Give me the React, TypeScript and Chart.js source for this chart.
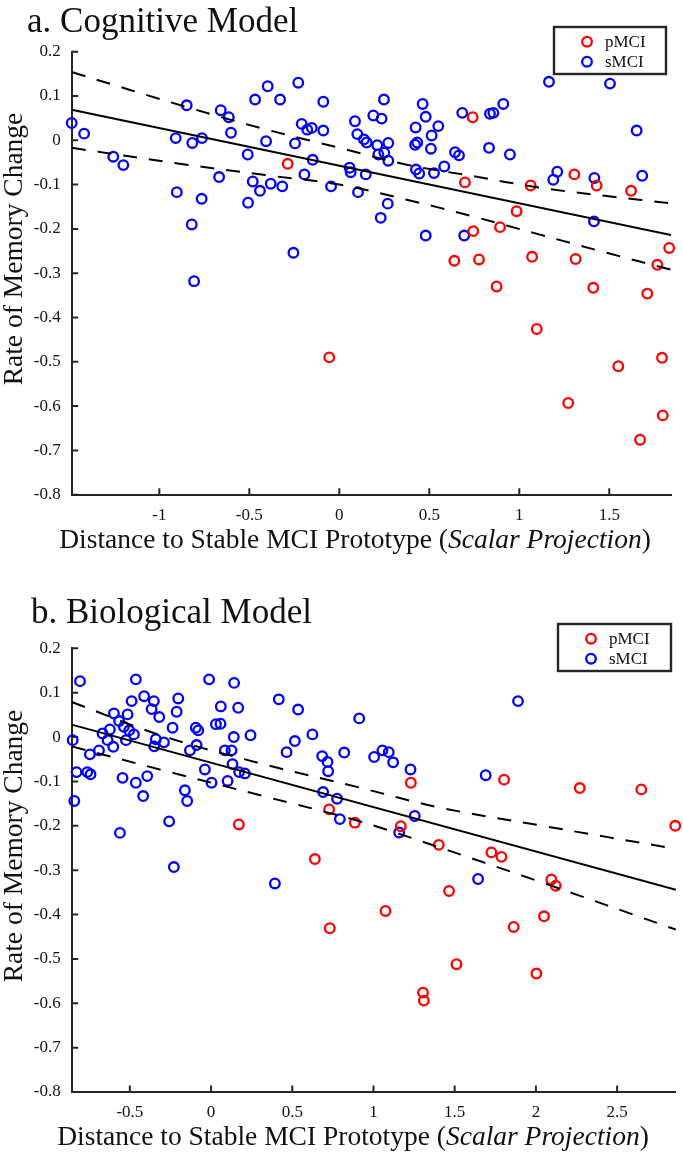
import React, { useEffect, useRef } from "react";
import { Chart, registerables } from "chart.js";

Chart.register(...registerables);

const FONT = '"Liberation Serif", "Times New Roman", Times, serif';
const AXIS = "#262626";
const TEXT = "#111111";
const RED = "#ff0000";
const BLUE = "#0000ff";

// ---------- Panel a: Cognitive Model ----------
const cogPmciX = [-0.287, -0.056, 0.741, 0.698, 1.063, 1.306, 1.43, 1.621, 0.985, 0.744, 0.893, 1.833, 1.767, 0.639, 0.776, 1.071, 1.313, 0.874, 1.411, 1.711, 1.097, 1.55, 1.793, 1.272, 1.797, 1.671];
const cogPmciY = [-0.053, -0.49, 0.052, -0.095, -0.102, -0.077, -0.102, -0.114, -0.16, -0.205, -0.196, -0.243, -0.281, -0.272, -0.269, -0.263, -0.268, -0.33, -0.333, -0.346, -0.426, -0.51, -0.491, -0.593, -0.621, -0.676];

const cogSmciX = [-1.487, -1.418, -1.256, -1.2, -0.909, -0.848, -0.817, -0.763, -0.903, -0.82, -0.765, -0.807, -0.668, -0.659, -0.614, -0.602, -0.509, -0.507, -0.481, -0.468, -0.441, -0.407, -0.398, -0.381, -0.329, -0.317, -0.255, -0.246, -0.228, -0.209, -0.194, -0.178, -0.153, -0.148, -0.089, -0.089, -0.046, 0.057, 0.063, 0.087, 0.1, 0.104, 0.137, 0.152, 0.147, 0.189, 0.211, 0.217, 0.235, 0.248, 0.25, 0.272, 0.272, 0.269, 0.23, 0.424, 0.421, 0.433, 0.426, 0.444, 0.463, 0.48, 0.48, 0.513, 0.509, 0.526, 0.55, 0.583, 0.643, 0.665, 0.683, 0.694, 0.832, 0.837, 0.856, 0.911, 0.948, 1.165, 1.189, 1.211, 1.417, 1.415, 1.504, 1.652, 1.683];
const cogSmciY = [0.039, 0.015, -0.037, -0.056, 0.005, 0.079, -0.006, 0.005, -0.117, -0.19, -0.132, -0.318, -0.083, 0.068, 0.052, 0.017, -0.032, -0.141, -0.093, 0.092, -0.114, -0.002, 0.122, -0.098, 0.092, -0.104, -0.254, -0.007, 0.13, 0.037, -0.077, 0.024, 0.028, -0.044, 0.087, 0.022, -0.104, -0.062, -0.072, 0.043, 0.014, -0.117, 0.002, -0.005, -0.077, 0.056, -0.011, -0.032, 0.049, 0.092, -0.028, -0.006, -0.046, -0.143, -0.175, 0.029, -0.01, -0.005, -0.066, -0.075, 0.082, 0.053, -0.215, 0.011, -0.019, -0.074, 0.032, -0.059, -0.027, -0.034, 0.062, -0.215, -0.017, 0.06, 0.062, 0.082, -0.032, 0.132, -0.089, -0.071, -0.085, -0.183, 0.128, 0.022, -0.08];

const cogFitX = [-1.487, 1.843];
const cogFitY = [0.069, -0.214];
const cogBandX = [-1.487, -0.848, -0.422, 0, 0.374, 0.744, 1.115, 1.486, 1.843];
const cogUpperY = [0.154, 0.075, 0.026, -0.017, -0.055, -0.081, -0.107, -0.126, -0.142];
const cogLowerY = [-0.017, -0.055, -0.078, -0.1, -0.134, -0.172, -0.213, -0.254, -0.292];
const cogXTicks = [-1, -0.5, 0, 0.5, 1, 1.5];

// ---------- Panel b: Biological Model ----------
const bioPmciX = [0.171, 0.727, 0.885, 1.23, 1.804, 2.27, 2.649, 2.858, 1.168, 1.402, 1.726, 1.788, 2.095, 2.122, 1.465, 1.074, 2.05, 1.863, 1.511, 2.003, 1.305, 1.31, 0.639, 0.731];
const bioPmciY = [-0.197, -0.163, -0.193, -0.103, -0.096, -0.115, -0.118, -0.2, -0.201, -0.243, -0.26, -0.27, -0.321, -0.335, -0.347, -0.392, -0.404, -0.428, -0.512, -0.533, -0.576, -0.594, -0.275, -0.431];

const bioSmciX = [-0.852, -0.807, -0.828, -0.842, -0.762, -0.742, -0.746, -0.69, -0.668, -0.637, -0.623, -0.602, -0.598, -0.566, -0.545, -0.537, -0.524, -0.514, -0.504, -0.489, -0.475, -0.463, -0.561, -0.463, -0.418, -0.412, -0.393, -0.366, -0.352, -0.35, -0.34, -0.319, -0.29, -0.258, -0.237, -0.212, -0.202, -0.161, -0.147, -0.13, -0.094, -0.089, -0.079, -0.038, -0.012, 0.003, 0.03, 0.058, 0.06, 0.085, 0.102, 0.126, 0.132, 0.14, 0.142, 0.167, 0.173, 0.208, 0.243, 0.417, 0.465, 0.516, 0.536, 0.624, 0.684, 0.69, 0.717, 0.721, 0.776, 0.793, 0.82, 0.912, 1.004, 1.055, 1.094, 1.121, 1.228, 1.254, 1.158, 1.691, 1.89, -0.229, 0.393, 1.644];
const bioSmciY = [-0.007, 0.126, -0.079, -0.144, -0.079, -0.084, -0.039, -0.03, 0.008, -0.007, 0.017, -0.022, 0.053, 0.036, -0.092, 0.023, -0.007, 0.051, 0.015, 0.081, 0.006, 0.13, -0.216, -0.103, -0.133, 0.092, -0.088, 0.063, 0.081, -0.021, -0.005, 0.045, -0.012, -0.19, 0.021, 0.057, 0.087, -0.12, -0.144, -0.03, 0.021, -0.018, 0.015, -0.073, 0.13, -0.103, 0.029, 0.03, 0.069, -0.03, -0.099, -0.03, -0.061, 0, 0.122, 0.066, -0.079, -0.082, 0.004, 0.085, -0.034, -0.009, 0.062, 0.006, -0.043, -0.124, -0.056, -0.077, -0.139, -0.185, -0.035, 0.042, -0.045, -0.03, -0.034, -0.057, -0.073, -0.178, -0.215, -0.086, 0.081, -0.293, -0.33, -0.32];

const bioFitX = [-0.858, 2.862];
const bioFitY = [0.028, -0.344];
const bioBandX = [-0.858, -0.295, 0.321, 0.916, 1.408, 2.023, 2.862];
const bioUpperY = [0.079, 0.002, -0.061, -0.114, -0.159, -0.199, -0.252];
const bioLowerY = [-0.021, -0.075, -0.133, -0.19, -0.249, -0.326, -0.434];
const bioXTicks = [-0.5, 0, 0.5, 1, 1.5, 2, 2.5];

const yTicks = [-0.8, -0.7, -0.6, -0.5, -0.4, -0.3, -0.2, -0.1, 0, 0.1, 0.2];
const seriesLabels = ["pMCI", "sMCI"];
const xTitleParts = ["Distance to Stable MCI Prototype (", "Scalar Projection", ")"];
const yTitle = "Rate of Memory Change";

const zip = (xs: number[], ys: number[]) => xs.map((x, i) => ({ x, y: ys[i] }));

type Spec = {
  title: string;
  height: number;
  plotLeft: number;
  plotTop: number;
  plotRight: number;
  plotBottom: number;
  xMin: number;
  xMax: number;
  xTicks: number[];
  pmci: { x: number; y: number }[];
  smci: { x: number; y: number }[];
  fit: { x: number; y: number }[];
  upper: { x: number; y: number }[];
  lower: { x: number; y: number }[];
  titlePos: { x: number; y: number };
  xTitlePos: { x: number; y: number };
  yTitlePos: { x: number; y: number };
  legend: { x: number; y: number; w: number; h: number };
};

const panels: Spec[] = [
  {
    title: "a. Cognitive Model",
    height: 597,
    plotLeft: 71.7,
    plotTop: 51.7,
    plotRight: 671,
    plotBottom: 494.7,
    xMin: -1.487,
    xMax: 1.843,
    xTicks: cogXTicks,
    pmci: zip(cogPmciX, cogPmciY),
    smci: zip(cogSmciX, cogSmciY),
    fit: zip(cogFitX, cogFitY),
    upper: zip(cogBandX, cogUpperY),
    lower: zip(cogBandX, cogLowerY),
    titlePos: { x: 27, y: 32 },
    xTitlePos: { x: 355, y: 548.3 },
    yTitlePos: { x: 22, y: 249 },
    legend: { x: 554, y: 27, w: 112, h: 47 },
  },
  {
    title: "b. Biological Model",
    height: 558,
    plotLeft: 71.7,
    plotTop: 51.3,
    plotRight: 676,
    plotBottom: 495,
    xMin: -0.858,
    xMax: 2.862,
    xTicks: bioXTicks,
    pmci: zip(bioPmciX, bioPmciY),
    smci: zip(bioSmciX, bioSmciY),
    fit: zip(bioFitX, bioFitY),
    upper: zip(bioBandX, bioUpperY),
    lower: zip(bioBandX, bioLowerY),
    titlePos: { x: 31, y: 26.3 },
    xTitlePos: { x: 353, y: 548 },
    yTitlePos: { x: 22, y: 249 },
    legend: { x: 558, y: 27, w: 113, h: 47 },
  },
];

const POINT_R = 4.8;
const POINT_W = 2.3;

function makeOverlay(p: Spec) {
  return {
    id: "overlay",
    beforeDatasetsDraw(chart: any) {
      const ctx = chart.ctx as CanvasRenderingContext2D;
      const xs = chart.scales.x;
      const ys = chart.scales.y;
      const a = chart.chartArea;
      ctx.save();
      ctx.strokeStyle = AXIS;
      ctx.lineWidth = 2;
      ctx.beginPath();
      for (const v of p.xTicks) {
        const px = xs.getPixelForValue(v);
        ctx.moveTo(px, a.bottom);
        ctx.lineTo(px, a.bottom - 6.5);
      }
      for (const v of yTicks) {
        const py = ys.getPixelForValue(v);
        ctx.moveTo(a.left, py);
        ctx.lineTo(a.left + 6.5, py);
      }
      ctx.stroke();
      ctx.restore();
    },
    afterDraw(chart: any) {
      const ctx = chart.ctx as CanvasRenderingContext2D;
      ctx.save();
      ctx.fillStyle = TEXT;
      // panel title
      ctx.font = `35px ${FONT}`;
      ctx.textAlign = "left";
      ctx.textBaseline = "alphabetic";
      ctx.fillText(p.title, p.titlePos.x, p.titlePos.y);

      // x-axis title with italic part
      const normal = `27.5px ${FONT}`;
      const italic = `italic 27.5px ${FONT}`;
      const fonts = [normal, italic, normal];
      const widths = xTitleParts.map((t, i) => {
        ctx.font = fonts[i];
        return ctx.measureText(t).width;
      });
      const total = widths.reduce((s, w) => s + w, 0);
      let cx = p.xTitlePos.x - total / 2;
      xTitleParts.forEach((t, i) => {
        ctx.font = fonts[i];
        ctx.fillText(t, cx, p.xTitlePos.y);
        cx += widths[i];
      });

      // y-axis title
      ctx.save();
      ctx.translate(p.yTitlePos.x, p.yTitlePos.y);
      ctx.rotate(-Math.PI / 2);
      ctx.font = normal;
      ctx.textAlign = "center";
      ctx.fillText(yTitle, 0, 0);
      ctx.restore();

      // legend
      const L = p.legend;
      ctx.fillStyle = "#ffffff";
      ctx.fillRect(L.x, L.y, L.w, L.h);
      ctx.lineWidth = 2.4;
      ctx.strokeStyle = AXIS;
      ctx.strokeRect(L.x, L.y, L.w, L.h);
      const items = chart.data.datasets.filter((d: any) => seriesLabels.includes(d.label));
      items.forEach((d: any, i: number) => {
        const cy = L.y + 14.7 + i * 20;
        ctx.beginPath();
        ctx.arc(L.x + 33, cy, POINT_R, 0, Math.PI * 2);
        ctx.lineWidth = POINT_W;
        ctx.strokeStyle = d.borderColor;
        ctx.stroke();
        ctx.fillStyle = TEXT;
        ctx.font = `17px ${FONT}`;
        ctx.textAlign = "left";
        ctx.textBaseline = "middle";
        ctx.fillText(d.label, L.x + 51, cy + 0.5);
      });
      ctx.restore();
    },
  };
}

function Panel({ p }: { p: Spec }) {
  const ref = useRef<HTMLCanvasElement | null>(null);
  useEffect(() => {
    if (!ref.current) return;
    const pointStyle = {
      showLine: false,
      pointRadius: POINT_R,
      pointHoverRadius: POINT_R,
      pointBorderWidth: POINT_W,
      pointBackgroundColor: "rgba(0,0,0,0)",
      backgroundColor: "rgba(0,0,0,0)",
      clip: false as any,
      order: 1,
    };
    const lineStyle = {
      showLine: true,
      pointRadius: 0,
      borderColor: "#000000",
      borderWidth: 2,
      backgroundColor: "rgba(0,0,0,0)",
      fill: false,
      order: 0,
    };
    const chart = new Chart(ref.current, {
      type: "scatter",
      data: {
        datasets: [
          { label: seriesLabels[0], data: p.pmci, borderColor: RED, pointBorderColor: RED, ...pointStyle },
          { label: seriesLabels[1], data: p.smci, borderColor: BLUE, pointBorderColor: BLUE, ...pointStyle },
          { label: "fit", data: p.fit, ...lineStyle },
          { label: "upper", data: p.upper, ...lineStyle, borderDash: [14, 12], tension: 0.35 },
          { label: "lower", data: p.lower, ...lineStyle, borderDash: [14, 12], tension: 0.35 },
        ] as any,
      },
      options: {
        animation: false,
        responsive: false,
        devicePixelRatio: 1,
        events: [],
        layout: { padding: { left: 0, top: p.plotTop, right: 683 - p.plotRight, bottom: 0 } },
        plugins: { legend: { display: false }, tooltip: { enabled: false }, title: { display: false } },
        scales: {
          x: {
            type: "linear",
            position: "bottom",
            min: p.xMin,
            max: p.xMax,
            grid: { display: false, drawTicks: false },
            border: { display: true, color: AXIS, width: 2 },
            ticks: {
              font: { family: FONT, size: 17 },
              color: TEXT,
              padding: 10.2,
              maxRotation: 0,
              autoSkip: false,
              callback: (v: any) => String(Math.round(Number(v) * 10) / 10),
            },
            afterBuildTicks: (s: any) => {
              s.ticks = p.xTicks.map((v) => ({ value: v }));
            },
            afterFit: (s: any) => {
              s.height = p.height - p.plotBottom;
            },
          },
          y: {
            type: "linear",
            position: "left",
            min: -0.8,
            max: 0.2,
            grid: { display: false, drawTicks: false },
            border: { display: true, color: AXIS, width: 2 },
            ticks: {
              font: { family: FONT, size: 17 },
              color: TEXT,
              padding: 11,
              autoSkip: false,
              callback: (v: any) => String(Math.round(Number(v) * 10) / 10),
            },
            afterBuildTicks: (s: any) => {
              s.ticks = yTicks.map((v) => ({ value: v }));
            },
            afterFit: (s: any) => {
              s.width = p.plotLeft;
            },
          },
        },
      } as any,
      plugins: [makeOverlay(p)],
    });
    return () => chart.destroy();
  }, [p]);
  return (
    <canvas
      ref={ref}
      width={683}
      height={p.height}
      style={{ display: "block", width: 683, height: p.height }}
    />
  );
}

export default function App() {
  return (
    <div style={{ position: "absolute", left: 0, top: 0, width: 683, height: 1155, background: "#fff" }}>
      {panels.map((p) => (
        <Panel key={p.title} p={p} />
      ))}
    </div>
  );
}
